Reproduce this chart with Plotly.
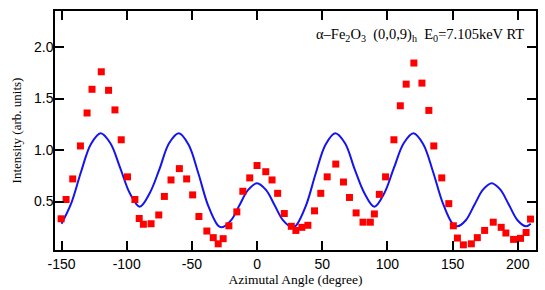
import plotly.graph_objects as go

# Measured data (red squares)
angle_data = [-150.3, -146.5, -141.4, -135.5, -130.4, -126.6, -119.5, -113.9, -109.0, -104.2,
              -99.4, -93.7, -90.4, -87.2, -81.3, -75.4, -71.1, -66.0, -59.6, -54.0,
              -49.4, -44.6, -38.5, -33.6, -29.8, -26.0, -21.6, -15.5, -10.9, -5.6,
              0.0, 6.7, 11.5, 15.8, 20.9, 26.3, 29.8, 34.4, 39.0, 44.1,
              48.9, 53.8, 60.4, 66.3, 70.9, 76.0, 81.3, 86.9, 90.0, 93.8,
              98.6, 105.0, 109.9, 114.4, 120.3, 126.5, 131.8, 135.6, 141.7, 147.1,
              150.6, 153.7, 158.3, 164.4, 169.0, 174.6, 181.2, 187.3, 190.9, 196.8,
              202.1, 206.4, 209.8]
intensity_data = [0.333, 0.52, 0.72, 1.04, 1.36, 1.59, 1.76, 1.58, 1.39, 1.10,
                  0.74, 0.52, 0.336, 0.28, 0.285, 0.37, 0.55, 0.71, 0.82, 0.72,
                  0.565, 0.355, 0.214, 0.15, 0.09, 0.14, 0.265, 0.40, 0.60, 0.73,
                  0.85, 0.79, 0.71, 0.58, 0.384, 0.26, 0.22, 0.25, 0.27, 0.41,
                  0.58, 0.74, 0.864, 0.69, 0.54, 0.39, 0.30, 0.30, 0.38, 0.57,
                  0.74, 1.10, 1.43, 1.64, 1.845, 1.65, 1.385, 1.04, 0.73, 0.48,
                  0.265, 0.146, 0.08, 0.09, 0.15, 0.22, 0.30, 0.25, 0.195, 0.133,
                  0.143, 0.20, 0.33]

# Calculated curve (blue line)
angle_fit = [-150, -142.5, -135, -127.5, -120, -112.5, -105, -97.5, -90, -82.5,
             -75, -67.5, -60, -52.5, -45, -37.5, -30, -27, -20, -13.5,
             -7, 0, 7, 13.5, 20, 27, 30, 37.5, 45, 52.5,
             60, 67.5, 75, 82.5, 90, 97.5, 105, 112.5, 120, 127.5,
             135, 142.5, 150, 153.7, 160, 167, 173.5, 180, 186.5, 193,
             200, 206.3, 210]
intensity_fit = [0.285, 0.485, 0.79, 1.057, 1.163, 1.066, 0.827, 0.578, 0.45, 0.578,
                 0.81, 1.066, 1.163, 1.052, 0.772, 0.46, 0.268, 0.25, 0.317, 0.464,
                 0.611, 0.678, 0.611, 0.464, 0.317, 0.25, 0.268, 0.46, 0.772, 1.052,
                 1.163, 1.066, 0.81, 0.578, 0.45, 0.578, 0.827, 1.066, 1.163, 1.057,
                 0.79, 0.485, 0.285, 0.26, 0.316, 0.475, 0.618, 0.678, 0.618, 0.475,
                 0.316, 0.26, 0.285]

x_ticks = [-150, -100, -50, 0, 50, 100, 150, 200]
y_ticks = [0.5, 1.0, 1.5, 2.0]

fig = go.Figure()
fig.add_trace(go.Scatter(x=angle_fit, y=intensity_fit, mode="lines",
                         line=dict(color="#1414f0", width=2, shape="spline", smoothing=1.0),
                         showlegend=False, hoverinfo="skip"))
fig.add_trace(go.Scatter(x=angle_data, y=intensity_data, mode="markers",
                         marker=dict(symbol="square", size=7, color="#ff0000",
                                     line=dict(width=0)),
                         showlegend=False))

serif = "Liberation Serif, Times New Roman, serif"
sans = "Liberation Sans, Arial, sans-serif"

axis_common = dict(showline=True, linecolor="black", linewidth=1.5, mirror="ticks",
                   ticks="inside", ticklen=9, tickwidth=1.5, tickcolor="black",
                   showgrid=False, zeroline=False,
                   tickfont=dict(family=sans, size=14, color="black"))

fig.update_xaxes(range=[-155, 214], tickvals=x_ticks,
                 ticktext=[str(v) for v in x_ticks],
                 title=dict(text="Azimutal Angle (degree)", standoff=2,
                            font=dict(family=serif, size=13.5, color="black")),
                 **axis_common)
fig.update_yaxes(range=[0.03, 2.35], tickvals=y_ticks,
                 ticktext=[f"{v:.1f}" for v in y_ticks],
                 ticklabelstandoff=-3,
                 title=dict(text="Intensity (arb. units)", standoff=9,
                            font=dict(family=serif, size=13, color="black")),
                 **axis_common)

fig.add_annotation(xref="paper", yref="paper", x=0.98, y=0.9, xanchor="right", yanchor="middle",
                   text="α–Fe<sub>2</sub>O<sub>3</sub>\u00a0\u00a0(0,0,9)<sub>h</sub>\u00a0\u00a0E<sub>0</sub>=7.105keV RT",
                   showarrow=False, font=dict(family=serif, size=14.5, color="black"))

fig.update_layout(width=545, height=290, margin=dict(l=55, r=7, t=11, b=39),
                  plot_bgcolor="white", paper_bgcolor="white")

fig.write_html("out.html", config={"displayModeBar": False},
               post_script="document.body.style.margin='0';document.body.style.overflow='hidden';")
